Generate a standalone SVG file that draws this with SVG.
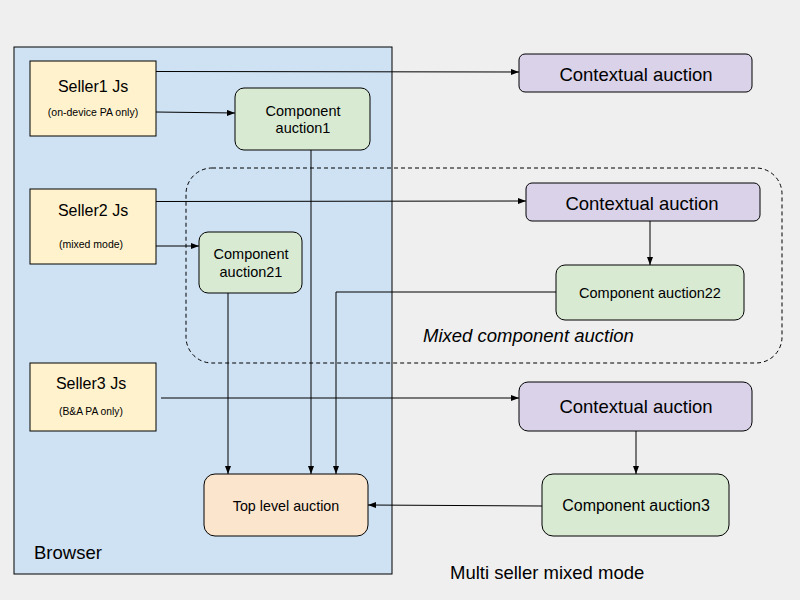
<svg xmlns="http://www.w3.org/2000/svg" width="800" height="600" viewBox="0 0 800 600">
<style>
text{font-family:"Liberation Sans",Arial,sans-serif;fill:#000}
.c{text-anchor:middle}
.seller{fill:#fff2cc;stroke:#000;stroke-width:1}
.green{fill:#d9ead3;stroke:#000;stroke-width:1}
.purple{fill:#d9d2e9;stroke:#000;stroke-width:1}
.orange{fill:#fce5cd;stroke:#000;stroke-width:1}
.conn{fill:none;stroke:#000;stroke-width:1;marker-end:url(#ah)}
</style>
<defs>
<marker id="ah" viewBox="0 0 8 6" refX="8" refY="3" markerWidth="8" markerHeight="6" markerUnits="userSpaceOnUse" orient="auto">
<path d="M0,0 L8,3 L0,6 z" fill="#000"/>
</marker>
</defs>
<rect x="0" y="0" width="800" height="600" fill="#efefef"/>
<g id="browser">
<rect x="14" y="47" width="378" height="527" fill="#cfe2f3" stroke="#000" stroke-width="1"/>
<text x="34" y="559" font-size="18.5">Browser</text>
</g>
<g id="mixed-group">
<rect x="186" y="168" width="596" height="195" rx="26" fill="none" stroke="#000" stroke-width="1" stroke-dasharray="4,3"/>
<text x="423" y="342" font-size="18.5" font-style="italic">Mixed component auction</text>
</g>
<g id="seller1">
<rect class="seller" x="30" y="61" width="126" height="75"/>
<text class="c" x="93" y="92" font-size="16">Seller1 Js</text>
<text class="c" x="93" y="116" font-size="10.5">(on-device PA only)</text>
</g>
<g id="seller2">
<rect class="seller" x="30" y="189" width="126" height="75"/>
<text class="c" x="93" y="216" font-size="16">Seller2 Js</text>
<text class="c" x="91" y="248" font-size="10.5">(mixed mode)</text>
</g>
<g id="seller3">
<rect class="seller" x="30" y="363" width="126" height="68"/>
<text class="c" x="91" y="389" font-size="16">Seller3 Js</text>
<text class="c" x="91" y="415" font-size="10.3">(B&amp;A PA only)</text>
</g>
<g id="component1">
<rect class="green" x="235" y="88" width="135" height="62" rx="9"/>
<text class="c" x="303" y="116" font-size="14.5">Component</text>
<text class="c" x="303" y="133" font-size="14.5">auction1</text>
</g>
<g id="component21">
<rect class="green" x="199" y="232" width="103" height="61" rx="9"/>
<text class="c" x="251" y="259" font-size="14.5">Component</text>
<text class="c" x="251" y="277" font-size="14.5">auction21</text>
</g>
<g id="contextual1">
<rect class="purple" x="519" y="54" width="233" height="38" rx="6"/>
<text class="c" x="636" y="81" font-size="18.5">Contextual auction</text>
</g>
<g id="contextual2">
<rect class="purple" x="526" y="183" width="234" height="38" rx="6"/>
<text class="c" x="642" y="210" font-size="18.5">Contextual auction</text>
</g>
<g id="component22">
<rect class="green" x="556" y="265" width="188" height="55" rx="9"/>
<text class="c" x="650" y="298" font-size="14.5">Component auction22</text>
</g>
<g id="contextual3">
<rect class="purple" x="519" y="382" width="233" height="49" rx="9"/>
<text class="c" x="636" y="413" font-size="18.5">Contextual auction</text>
</g>
<g id="component3">
<rect class="green" x="542" y="474" width="187" height="62" rx="11"/>
<text class="c" x="636" y="511" font-size="16">Component auction3</text>
</g>
<g id="toplevel">
<rect class="orange" x="204" y="474" width="164" height="62" rx="11"/>
<text class="c" x="286" y="511" font-size="14.3">Top level auction</text>
</g>
<g id="caption">
<text x="450" y="579" font-size="18.5">Multi seller mixed mode</text>
</g>
<g id="connectors">
<path class="conn" d="M156,71.5 L519,72"/>
<path class="conn" d="M156,112 L235,113"/>
<path class="conn" d="M311,150 L311,474"/>
<path class="conn" d="M156,201.5 L526,201"/>
<path class="conn" d="M156,246 L199,246"/>
<path class="conn" d="M228,293 L228,474"/>
<path class="conn" d="M650,221 L650,265"/>
<path class="conn" d="M556,292 L336,292 L336,474"/>
<path class="conn" d="M161,398 L519,398"/>
<path class="conn" d="M636,431 L636,474"/>
<path class="conn" d="M542,506 L368,505"/>
</g>
</svg>
